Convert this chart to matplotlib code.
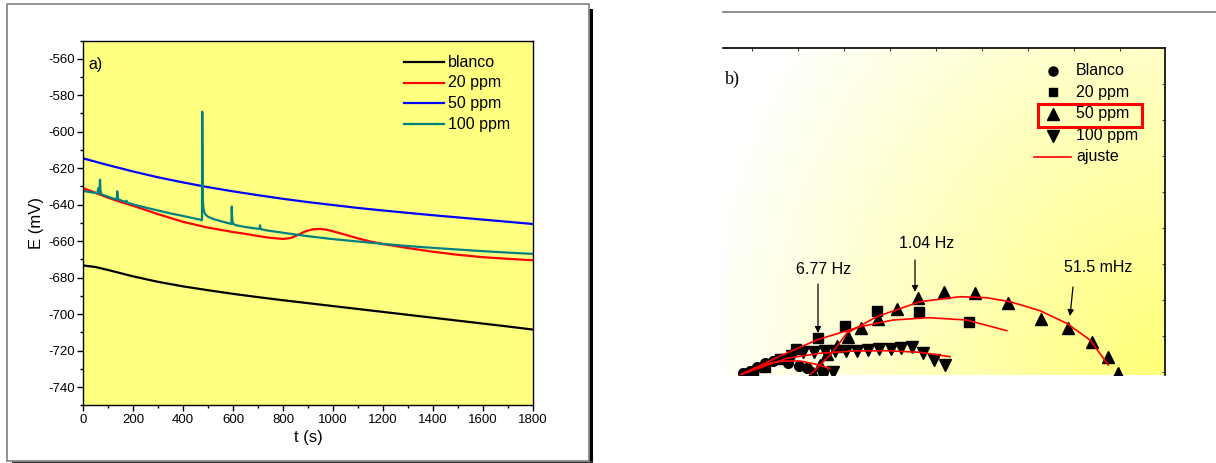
import numpy as np
import matplotlib
matplotlib.use("Agg")
import matplotlib.pyplot as plt
from matplotlib.patches import Rectangle
from matplotlib.lines import Line2D

plt.rcParams['font.family'] = ['Liberation Sans', 'DejaVu Sans']
plt.rcParams['axes.unicode_minus'] = False

# ---------------- data: panel a) open circuit potential ----------------
t_blanco = [0, 50, 100, 200, 300, 400, 500, 600, 700, 800, 900, 1000, 1100, 1200,
            1300, 1400, 1500, 1600, 1700, 1800]
e_blanco = [-673.3, -674.2, -675.8, -679.3, -682.3, -684.8, -686.9, -688.9, -690.7,
            -692.4, -694.0, -695.6, -697.2, -698.8, -700.4, -702.0, -703.6, -705.2,
            -706.8, -708.5]

t_20 = [0, 50, 100, 150, 200, 300, 400, 500, 600, 650, 700, 750, 800, 830, 860, 890,
        920, 945, 970, 1000, 1050, 1100, 1150, 1200, 1300, 1400, 1500, 1600, 1700, 1800]
e_20 = [-630.9, -633.5, -636.2, -638.5, -640.6, -645.2, -649.4, -652.6, -655.0, -656.0,
        -657.2, -658.2, -658.8, -658.3, -656.6, -654.6, -653.5, -653.3, -653.6, -654.6,
        -656.5, -658.5, -660.2, -661.6, -663.8, -665.8, -667.5, -668.8, -669.7, -670.5]

t_50 = [0, 100, 200, 300, 400, 500, 600, 700, 800, 900, 1000, 1100, 1200, 1300, 1400,
        1500, 1600, 1700, 1800]
e_50 = [-614.6, -618.3, -621.8, -625.0, -627.8, -630.4, -632.7, -634.8, -636.8, -638.6,
        -640.2, -641.8, -643.2, -644.5, -645.8, -647.0, -648.2, -649.4, -650.6]

t_100 = [0, 30, 58, 61, 63, 66, 68, 70, 73, 80, 100, 120, 135, 137, 140, 150, 172, 174,
         177, 200, 250, 300, 350, 400, 440, 468, 476, 477, 479, 482, 488, 500, 520, 550,
         594, 595, 597, 600, 610, 650, 700, 706, 708, 711, 730, 800, 900, 1000, 1100,
         1200, 1300, 1400, 1500, 1600, 1700, 1800]
e_100 = [-632.4, -633.2, -633.6, -631.0, -633.5, -633.8, -626.3, -632.0, -634.2, -634.7,
         -635.6, -636.6, -637.2, -632.7, -637.0, -637.6, -638.6, -637.8, -638.9, -639.8,
         -641.6, -643.2, -644.8, -646.2, -647.4, -648.2, -648.5, -589.0, -637.0, -642.5,
         -645.2, -646.6, -647.8, -649.0, -650.6, -641.0, -648.5, -650.4, -651.2, -652.3,
         -653.2, -653.3, -651.3, -653.4, -654.0, -655.4, -657.3, -658.9, -660.2, -661.5,
         -662.7, -663.7, -664.6, -665.5, -666.3, -667.0]

labels_a = ['blanco', '20 ppm', '50 ppm', '100 ppm']
colors_a = ['#000000', '#FF0000', '#0000FF', '#008080']

# ---------------- data: panel b) Nyquist diagram (read values) ----------------
blanco_x = [20.3, 27.0, 33.7, 42.0, 50.3, 58.7, 65.3, 76.3, 83.7, 100.3]
blanco_y = [1.7, 4.3, 8.3, 12.3, 14.3, 15.7, 11.7, 9.0, 6.7, 3.3]

ppm20_x = [30.3, 42.0, 57.0, 72.7, 94.7, 122.0, 154.0, 196.3, 246.3]
ppm20_y = [3.3, 8.3, 15.7, 25.7, 36.7, 49.0, 63.7, 63.3, 53.3]

ppm50_x = [90.3, 97.0, 103.7, 113.7, 125.3, 138.0, 155.3, 174.3, 195.3, 221.0, 252.0,
           285.3, 317.7, 345.3, 368.7, 385.3, 395.3]
ppm50_y = [2.3, 10.0, 21.0, 29.3, 37.7, 46.7, 55.7, 66.0, 76.7, 83.3, 81.7, 71.7, 56.0,
           46.7, 33.3, 17.7, 2.3]

ppm100_x = [62.0, 68.7, 80.3, 91.0, 102.0, 112.0, 123.0, 134.3, 145.3, 156.3, 167.5,
            178.3, 188.7, 199.7, 210.7, 222.0, 110.0]
ppm100_y = [15.0, 19.0, 23.0, 23.3, 23.7, 24.3, 24.3, 24.3, 25.5, 25.7, 26.3, 27.0,
            28.3, 22.0, 15.5, 9.7, 3.0]

fit_blanco_x = [17, 32, 47, 62, 77, 92, 107]
fit_blanco_y = [0, 7, 12, 14, 14, 11, 6.5]
fit20_x = [17, 55, 93.7, 137, 170.3, 205.3, 243.7, 283.7]
fit20_y = [0, 18, 35, 48.3, 55, 57.3, 55, 44.3]
fit50_x = [87, 108.7, 123.7, 153.7, 197, 237, 263.7, 287, 317, 343.7, 367, 385.3]
fit50_y = [0, 21.7, 41.7, 58.3, 73.3, 78.3, 77.3, 73.3, 64.3, 51.7, 35, 10]
fit100_x = [17, 63.7, 97, 130.3, 163.7, 197, 227]
fit100_y = [0, 16.7, 21.7, 24, 24.3, 22.7, 18.3]

freq_labels = ['6.77 Hz', '1.04 Hz', '51.5 mHz']
freq_points = [(95, 42), (192, 83), (347, 59)]
legend_b = ['Blanco', '20 ppm', '50 ppm', '100 ppm', 'ajuste']

# ---------------- figure ----------------
W, H = 1216, 463
fig = plt.figure(figsize=(W / 100, H / 100), dpi=100)


def fx(px):
    return px / W


def fy(py):
    return 1 - py / H


# outer frame of panel a) with shadow
fig.add_artist(Rectangle((fx(589), fy(463)), 4 / W, 454 / H, transform=fig.transFigure,
                         color='black', lw=0))
fig.add_artist(Rectangle((fx(12), fy(463)), 581 / W, 2 / H, transform=fig.transFigure,
                         color='#333333', lw=0))
fig.add_artist(Rectangle((fx(7), fy(461)), 582 / W, 457 / H, transform=fig.transFigure,
                         fill=False, ec='#8a8a8a', lw=1.3))

# ---- panel a)
axa = fig.add_axes([fx(83), fy(405.3), (533 - 83) / W, (405.3 - 40.5) / H])
axa.set_facecolor('#FFFF80')
series = [(t_blanco, e_blanco), (t_20, e_20), (t_50, e_50), (t_100, e_100)]
for (tt, ee), c, lab in zip(series, colors_a, labels_a):
    axa.plot(tt, ee, color=c, lw=1.6, label=lab)
axa.set_xlim(0, 1800)
axa.set_ylim(-750, -550)
axa.set_xticks(np.arange(0, 1801, 200))
axa.set_xticks(np.arange(0, 1801, 100), minor=True)
axa.set_yticks(np.arange(-740, -559, 20))
axa.set_yticks(np.arange(-750, -549, 10), minor=True)
axa.tick_params(which='major', direction='out', length=4, width=1, labelsize=9.5, pad=2)
axa.tick_params(which='minor', direction='out', length=2.5, width=1)
for s in axa.spines.values():
    s.set_linewidth(1)
axa.set_xlabel('t (s)', fontsize=12, labelpad=3)
axa.set_ylabel('E (mV)', fontsize=12, labelpad=3)
axa.text(0.012, 0.935, 'a)', transform=axa.transAxes, fontsize=11.5, va='center', ha='left')

# legend of panel a) (manual placement to match)
rows_a = [0.9402, 0.8843, 0.8279, 0.7711]
for r, c, lab in zip(rows_a, colors_a, labels_a):
    axa.add_line(Line2D([0.713, 0.802], [r, r], transform=axa.transAxes, color=c, lw=1.6))
    axa.text(0.812, r, lab, transform=axa.transAxes, fontsize=11.5, va='center', ha='left')

# ---- panel b)
fig.add_artist(Line2D([fx(723), 1.0], [fy(12), fy(12)], transform=fig.transFigure,
                      color='#7a7a7a', lw=1.2))
axb = fig.add_axes([fx(723), fy(375), (1165 - 723) / W, (375 - 48) / H])
axb.set_xlim(0, 442)
axb.set_ylim(0, 327)

# gradient background (white -> yellow towards bottom right)
gx = np.linspace(0, 442, 300)
gy = np.linspace(0, 327, 220)
GX, GY = np.meshgrid(gx, gy)
dist = np.hypot(442 - GX, 0.85 * GY)
f = np.clip(1 - dist / 470.0, 0, 1) ** 1.0
img = np.ones(GX.shape + (3,))
img[..., 2] = 1 - f * (1 - 120 / 255)
axb.imshow(img, extent=[0, 442, 0, 327], origin='lower', aspect='auto', zorder=0,
           interpolation='bilinear')

for s in ['left', 'bottom']:
    axb.spines[s].set_visible(False)
for s in ['top', 'right']:
    axb.spines[s].set_linewidth(1.2)
axb.yaxis.set_ticks_position('right')
axb.xaxis.set_ticks_position('top')
axb.set_yticks(np.arange(3, 327, 36))
axb.set_xticks(np.arange(28.7, 442, 46))
axb.tick_params(direction='in', length=2.5, width=0.8, labelright=False, labeltop=False,
                labelleft=False, labelbottom=False, color='#444444')

ms = dict(color='black', ls='none', zorder=3)
axb.plot(blanco_x, blanco_y, marker='o', markersize=7, **ms)
axb.plot(ppm20_x, ppm20_y, marker='s', markersize=6.5, **ms)
axb.plot(ppm50_x, ppm50_y, marker='^', markersize=8.5, **ms)
axb.plot(ppm100_x, ppm100_y, marker='v', markersize=8.5, **ms)
for xx, yy in [(fit_blanco_x, fit_blanco_y), (fit20_x, fit20_y), (fit50_x, fit50_y),
               (fit100_x, fit100_y)]:
    axb.plot(xx, yy, color='#FF0000', lw=1.2, zorder=4)

# frequency annotations
text_pos = [(100, 105), (204, 132), (375, 107)]
arrow_start = [(95, 91), (192, 115), (350, 88)]
for lab, p, tp, st in zip(freq_labels, freq_points, text_pos, arrow_start):
    axb.annotate('', xy=p, xytext=st,
                 arrowprops=dict(arrowstyle='-|>', color='black', lw=0.9, mutation_scale=9,
                                 shrinkA=0, shrinkB=0))
    axb.text(tp[0], tp[1], lab, fontsize=11.5, ha='center', va='center')

axb.text(0.005, 0.905, 'b)', transform=axb.transAxes, fontsize=13, ha='left', va='center',
         family=['Liberation Serif', 'DejaVu Serif'])

# legend of panel b)
rows_b = [0.9297, 0.8654, 0.7982, 0.7309, 0.6667]
markers_b = ['o', 's', '^', 'v']
msz = [6.5, 6, 8, 8]
for r, m, s_, lab in zip(rows_b[:4], markers_b, msz, legend_b[:4]):
    axb.plot([0.746], [r], marker=m, markersize=s_, color='black', ls='none',
             transform=axb.transAxes, clip_on=False)
    axb.text(0.799, r, lab, transform=axb.transAxes, fontsize=11.5, va='center', ha='left')
axb.add_line(Line2D([0.7036, 0.787], [rows_b[4], rows_b[4]], transform=axb.transAxes,
                    color='#FF0000', lw=1.2))
axb.text(0.799, rows_b[4], legend_b[4], transform=axb.transAxes, fontsize=11.5,
         va='center', ha='left')
axb.add_patch(Rectangle((0.712, 0.7584), 0.235, 0.0703, transform=axb.transAxes,
                        fill=False, ec='#FF0000', lw=2.2, zorder=5))

fig.savefig('out.png', dpi=100)
